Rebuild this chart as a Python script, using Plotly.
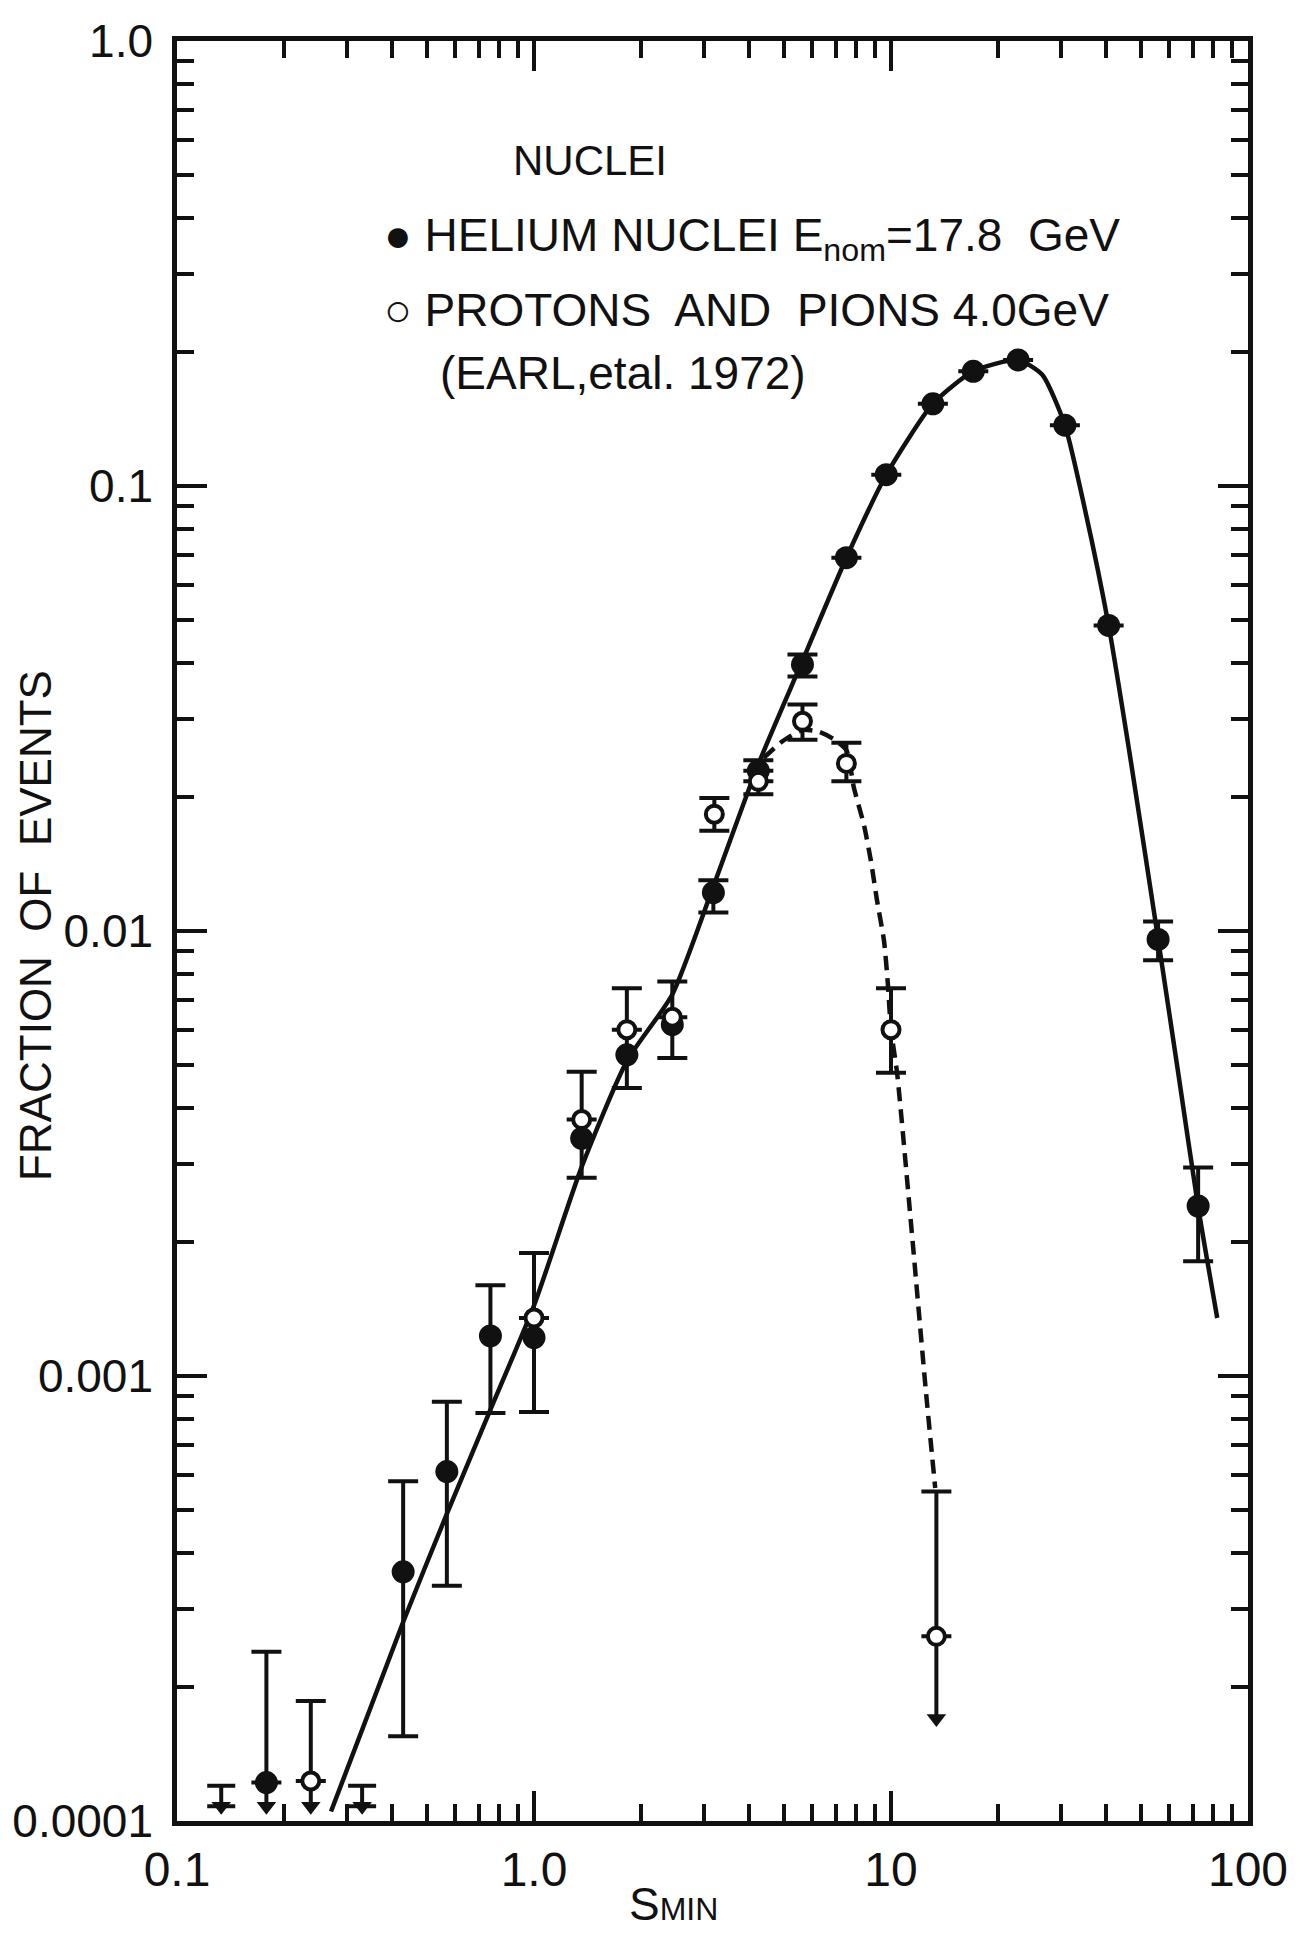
import plotly.graph_objects as go

# ---------------- data ----------------
# Helium nuclei, E_nom = 17.8 GeV (filled circles)
he_x = [0.178, 0.43, 0.57, 0.755, 1.0, 1.36, 1.82, 2.44, 3.18, 4.25, 5.65, 7.5, 9.7, 13.1, 17.0, 22.7, 30.7, 40.7, 56.0, 72.5]
he_y = [1.22e-4, 3.63e-4, 6.1e-4, 1.23e-3, 1.22e-3, 3.42e-3, 5.27e-3, 6.16e-3, 0.0122, 0.0229, 0.0397, 0.069, 0.106, 0.153, 0.181, 0.192, 0.137, 0.0486, 0.00957, 0.00241]
he_hi = [2.4e-4, 5.8e-4, 8.75e-4, 1.6e-3, 1.89e-3, 4.83e-3, 7.44e-3, 7.7e-3, 0.0130, 0.0242, 0.0418, None, None, None, None, None, None, None, 0.0105, 0.00294]
he_lo = [None, 1.55e-4, 3.38e-4, 8.26e-4, 8.3e-4, 2.79e-3, 4.44e-3, 5.18e-3, 0.0110, None, 0.0373, None, None, None, None, None, None, None, 0.0086, 0.00181]

# Protons and pions 4.0 GeV (Earl et al. 1972) (open circles)
pp_x = [0.237, 1.0, 1.36, 1.82, 2.44, 3.2, 4.25, 5.65, 7.5, 10.0, 13.4]
pp_y = [1.23e-4, 1.35e-3, 3.77e-3, 6.0e-3, 6.4e-3, 0.0183, 0.0217, 0.0296, 0.0238, 6.0e-3, 2.6e-4]
pp_hi = [1.86e-4, None, None, None, None, 0.0199, None, 0.0323, 0.0265, 7.44e-3, 5.5e-4]
pp_lo = [None, None, None, None, None, 0.0168, 0.0203, 0.0269, 0.0217, 4.8e-3, None]

# downward arrows (upper limits / points continuing below)
arr_x = [0.178, 0.237, 13.4]
arr_tip = [1.08e-4, 1.08e-4, 1.7e-4]
arr_top = [1.22e-4, 1.23e-4, 2.6e-4]
lim_x = [0.133, 0.33]
lim_tip = [1.08e-4, 1.08e-4]
lim_top = [1.2e-4, 1.2e-4]

# hand-drawn curves
fit_x = [0.27, 0.43, 0.57, 0.755, 1.0, 1.36, 1.82, 2.44, 3.18, 4.25, 5.65, 7.5, 9.7, 13.1, 17.0, 22.7, 26.5, 30.7, 35.0, 40.7, 47.0, 56.0, 64.0, 72.5, 82.0]
fit_y = [1.05e-4, 2.8e-4, 4.9e-4, 8.4e-4, 1.44e-3, 2.95e-3, 5.1e-3, 7.2e-3, 0.0126, 0.0237, 0.0405, 0.069, 0.106, 0.153, 0.181, 0.192, 0.178, 0.137, 0.088, 0.0486, 0.024, 9.6e-3, 4.7e-3, 2.4e-3, 1.35e-3]
dash_x = [4.4, 5.0, 5.65, 6.3, 6.9, 7.5, 7.87, 8.4, 8.78, 9.14, 9.56, 9.8, 10.0, 10.4, 11.5, 12.5, 13.3]
dash_y = [0.0245, 0.0268, 0.0283, 0.028, 0.027, 0.0255, 0.021, 0.0173, 0.0144, 0.0117, 9.5e-3, 7.6e-3, 6.0e-3, 4.8e-3, 2.0e-3, 9.4e-4, 5.6e-4]

x_tickvals = [0.1, 1.0, 10.0, 100.0]
x_ticktext = ["0.1", "1.0", "10", "100"]
y_tickvals = [1e-4, 1e-3, 1e-2, 1e-1, 1.0]
y_ticktext = ["0.0001", "0.001", "0.01", "0.1", "1.0"]

# ---------------- figure ----------------
FONT = "Liberation Sans, Arial, sans-serif"
BLACK = "#111111"
LW = 4


def deltas(y, hi, lo):
    up = [(h - v) if h is not None else None for v, h in zip(y, hi)]
    dn = [(v - l) if l is not None else None for v, l in zip(y, lo)]
    dn = [d if d is not None else (0 if u is not None else None) for u, d in zip(up, dn)]
    up = [u if u is not None else (0 if d is not None else None) for u, d in zip(up, dn)]
    return up, dn


fig = go.Figure()

fig.add_trace(go.Scatter(x=fit_x, y=fit_y, mode="lines",
                         line=dict(color=BLACK, width=4.5, shape="spline", smoothing=0.6), hoverinfo="skip"))
fig.add_trace(go.Scatter(x=dash_x, y=dash_y, mode="lines",
                         line=dict(color=BLACK, width=4.5, dash="14px,8px", shape="spline", smoothing=0.6),
                         hoverinfo="skip"))

# arrows
fig.add_trace(go.Scatter(x=arr_x, y=arr_tip, mode="markers",
                         marker=dict(symbol="triangle-down", size=17, color=BLACK),
                         error_y=dict(type="data", symmetric=False,
                                      array=[t - b for t, b in zip(arr_top, arr_tip)],
                                      arrayminus=[0] * len(arr_tip), width=0, thickness=LW, color=BLACK)))
fig.add_trace(go.Scatter(x=lim_x, y=lim_tip, mode="markers",
                         marker=dict(symbol="triangle-down", size=17, color=BLACK),
                         error_y=dict(type="data", symmetric=False,
                                      array=[t - b for t, b in zip(lim_top, lim_tip)],
                                      arrayminus=[0] * len(lim_tip), width=14, thickness=LW, color=BLACK)))

up, dn = deltas(he_y, he_hi, he_lo)
fig.add_trace(go.Scatter(x=he_x, y=he_y, mode="markers",
                         marker=dict(symbol="circle", size=23, color=BLACK),
                         error_y=dict(type="data", symmetric=False, array=up, arrayminus=dn,
                                      width=15, thickness=LW, color=BLACK)))

up, dn = deltas(pp_y, pp_hi, pp_lo)
fig.add_trace(go.Scatter(x=pp_x, y=pp_y, mode="markers",
                         marker=dict(symbol="circle", size=17, color="white", line=dict(color=BLACK, width=4)),
                         error_y=dict(type="data", symmetric=False, array=up, arrayminus=dn,
                                      width=15, thickness=LW, color=BLACK)))

x_minor = [m * 10.0 ** e for e in range(-1, 2) for m in range(2, 10)]
y_minor = [m * 10.0 ** e for e in range(-4, 0) for m in range(2, 10)]

axis_common = dict(showline=True, linewidth=4.5, linecolor=BLACK, mirror="allticks",
                   ticks="inside", ticklen=30, tickwidth=4, tickcolor=BLACK,
                   showgrid=False, zeroline=False, automargin=False)

fig.update_xaxes(type="log", range=[-1, 2], tickmode="array", tickvals=x_tickvals, ticktext=x_ticktext,
                 minor=dict(ticks="inside", ticklen=17, tickwidth=4, tickcolor=BLACK,
                            tickmode="array", tickvals=x_minor, showgrid=False),
                 tickfont=dict(family=FONT, size=48, color=BLACK),
                 ticklabelstandoff=3, **axis_common)
fig.update_yaxes(type="log", range=[-4, 0], tickmode="array", tickvals=y_tickvals, ticktext=y_ticktext,
                 minor=dict(ticks="inside", ticklen=17, tickwidth=4, tickcolor=BLACK,
                            tickmode="array", tickvals=y_minor, showgrid=False),
                 tickfont=dict(family=FONT, size=46, color=BLACK),
                 ticklabelstandoff=10, **axis_common)

L, R, T, B = 169, 60, 33, 120
W, H = 1300, 1933
pw, ph = W - L - R, H - T - B


def px(X):
    return (X - L) / pw


def py(Y):
    return 1 - (Y - T) / ph


tfont = dict(family=FONT, size=46, color=BLACK)
fig.add_annotation(xref="paper", yref="paper", showarrow=False, text="NUCLEI",
                   x=px(582), y=py(153), xanchor="center", yanchor="middle",
                   font=dict(family=FONT, size=42, color=BLACK))
anns = [
    dict(text="\u25CF HELIUM NUCLEI E<sub>nom</sub>=17.8  GeV", x=px(374), y=py(230)),
    dict(text="\u25CB PROTONS  AND  PIONS 4.0GeV", x=px(374), y=py(302)),
    dict(text="(EARL,etal. 1972)", x=px(430), y=py(365)),
]
for a in anns:
    fig.add_annotation(xref="paper", yref="paper", showarrow=False, font=tfont,
                       xanchor="left", yanchor="middle", **a)

fig.add_annotation(xref="paper", yref="paper", x=px(28), y=py(918), text="FRACTION  OF  EVENTS",
                   textangle=-90, showarrow=False, font=dict(family=FONT, size=44, color=BLACK),
                   xanchor="center", yanchor="middle")
fig.add_annotation(xref="paper", yref="paper", x=px(665), y=py(1896),
                   text="S<span style='font-size:32px'>MIN</span>",
                   showarrow=False, font=dict(family=FONT, size=46, color=BLACK),
                   xanchor="center", yanchor="middle")

fig.update_layout(width=W, height=H, margin=dict(l=L, r=R, t=T, b=B, autoexpand=False),
                  paper_bgcolor="white", plot_bgcolor="white", showlegend=False)

fig.write_html("out.html")
